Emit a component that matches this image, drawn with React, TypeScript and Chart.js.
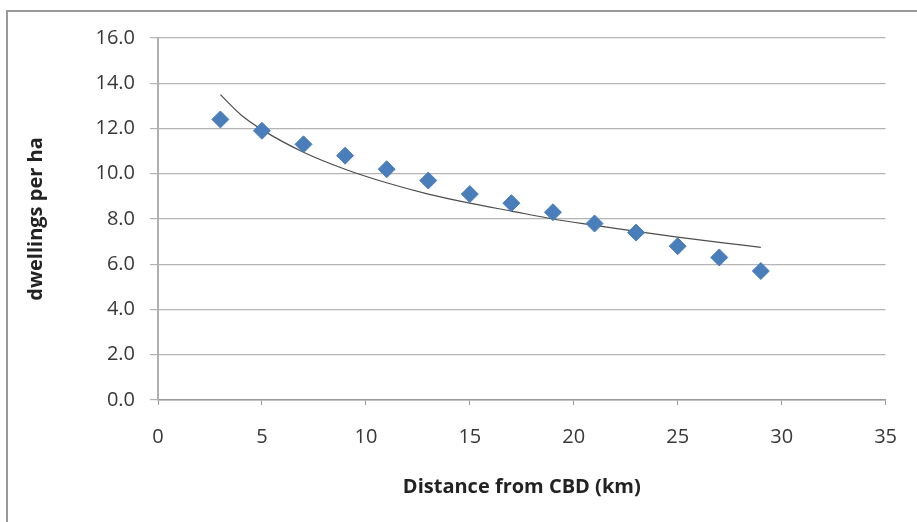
import React, { useEffect, useRef } from "react";
import { Chart, registerables } from "chart.js";

Chart.register(...registerables);

const distanceKm = [3, 5, 7, 9, 11, 13, 15, 17, 19, 21, 23, 25, 27, 29];
const dwellingsPerHa = [12.4, 11.9, 11.3, 10.8, 10.2, 9.7, 9.1, 8.7, 8.3, 7.8, 7.4, 6.8, 6.3, 5.7];

const trendX = [3, 4, 5, 7, 9, 11, 13, 15, 17, 19, 21, 23, 25, 27, 29];
const trendY = [13.5, 12.6, 11.95, 10.95, 10.2, 9.6, 9.1, 8.7, 8.35, 8.0, 7.72, 7.45, 7.2, 6.97, 6.75];

const xTitle = "Distance from CBD (km)";
const yTitle = "dwellings per ha";

export default function App() {
  const ref = useRef<HTMLCanvasElement | null>(null);

  useEffect(() => {
    if (!ref.current) return;
    const chart = new Chart(ref.current, {
      type: "scatter",
      data: {
        datasets: [
          {
            label: "data",
            data: distanceKm.map((x, i) => ({ x, y: dwellingsPerHa[i] })),
            pointStyle: "rectRot",
            pointRadius: 8.5,
            backgroundColor: "#4a7ebb",
            borderColor: "#4a7ebb",
            borderWidth: 1,
            showLine: false,
          },
          {
            label: "trend",
            data: trendX.map((x, i) => ({ x, y: trendY[i] })),
            showLine: true,
            pointRadius: 0,
            borderColor: "#4d4d4d",
            borderWidth: 1.2,
            cubicInterpolationMode: "monotone",
          },
        ],
      },
      options: {
        animation: false,
        responsive: false,
        layout: { padding: { left: 0, top: 38, right: 27, bottom: 0 } },
        plugins: { legend: { display: false }, tooltip: { enabled: false } },
        scales: {
          x: {
            type: "linear",
            min: 0,
            max: 35,
            ticks: {
              stepSize: 5,
              padding: 20,
              color: "#383838",
              font: { family: "Open Sans", size: 20 },
            },
            grid: {
              drawOnChartArea: false,
              drawTicks: true,
              tickLength: 5,
              color: "#9a9a9a",
            },
            border: { display: true, color: "#9a9a9a", width: 1.5 },
            title: {
              display: true,
              text: xTitle,
              color: "#222222",
              font: { family: "Open Sans", size: 20, weight: "bold" },
              padding: { top: 0, bottom: 23 },
            },
            afterFit: (scale: any) => {
              scale.height = 122;
            },
          },
          y: {
            type: "linear",
            min: 0,
            max: 16,
            ticks: {
              stepSize: 2,
              padding: 15,
              color: "#383838",
              font: { family: "Open Sans", size: 20 },
              callback: (v: any) => Number(v).toFixed(1),
            },
            grid: {
              color: "#b4b4b4",
              lineWidth: 1.2,
              tickLength: 8,
            },
            border: { display: true, color: "#b0b0b0", width: 2 },
            title: {
              display: true,
              text: yTitle,
              color: "#222222",
              font: { family: "Open Sans", size: 20, weight: "bold" },
              padding: { top: 24, bottom: 0 },
            },
            afterFit: (scale: any) => {
              scale.width = 158;
            },
          },
        },
      },
    });
    return () => chart.destroy();
  }, []);

  return (
    <div style={{ position: "fixed", left: 0, top: 0, width: 917, height: 522, background: "#fff" }}>
      <canvas ref={ref} width={917} height={522} style={{ position: "absolute", left: 0, top: 0 }} />
      <div
        style={{
          position: "absolute",
          left: 6,
          top: 10,
          right: 0,
          bottom: 0,
          borderTop: "2px solid #9a9a9a",
          borderLeft: "2px solid #9a9a9a",
          pointerEvents: "none",
        }}
      />
    </div>
  );
}
